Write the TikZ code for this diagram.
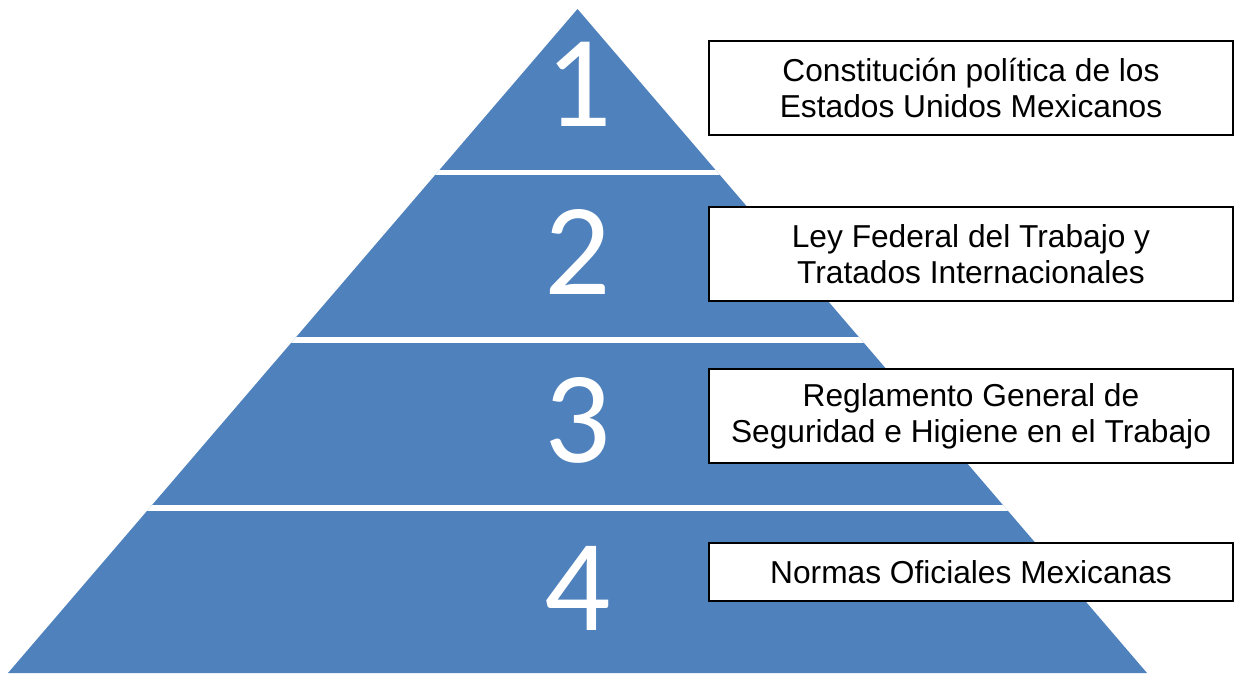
\documentclass[tikz,border=0pt]{standalone}
\usepackage{fontspec}
\setmainfont{Liberation Sans}
\newfontfamily\digitfont[Numbers=Monospaced]{Carlito}
\definecolor{pyrblue}{HTML}{4F81BD}
\begin{document}
\begin{tikzpicture}[x=1pt,y=-1pt,
  labelbox/.style={draw=black, line width=1.8pt, fill=white, rectangle,
    minimum width=524pt, inner sep=0pt, align=center,
    font=\fontsize{31.7}{36}\selectfont},
  levelnum/.style={text=white, inner sep=0pt,
    font=\digitfont\fontsize{131}{131}\selectfont},
  gap/.style={draw=white, line width=5.6pt}]
\useasboundingbox (0,0) rectangle (1234,673);
% pyramid body
\coordinate (apex) at (577.5,9);
\coordinate (bl) at (8,673);
\coordinate (br) at (1147,673);
\fill[pyrblue] (apex) -- (br) -- (bl) -- cycle;
% white separators between the levels
\begin{scope}
  \clip (apex) -- (br) -- (bl) -- cycle;
  \coordinate (g1l) at (0,172.5);  \coordinate (g1r) at (1234,172.5);
  \coordinate (g2l) at (0,340);    \coordinate (g2r) at (1234,340);
  \coordinate (g3l) at (0,508);    \coordinate (g3r) at (1234,508);
  \draw[gap] (g1l) -- (g1r);
  \draw[gap] (g2l) -- (g2r);
  \draw[gap] (g3l) -- (g3r);
\end{scope}
% level numbers
\node[levelnum] (n1) at (579,84) {1};
\node[levelnum] (n2) at (578,252) {2};
\node[levelnum] (n3) at (578,420) {3};
\node[levelnum] (n4) at (578,588) {4};
% labels
\node[labelbox, minimum height=94pt] (b1) at (971,88)
  {Constitución política de los\\Estados Unidos Mexicanos};
\node[labelbox, minimum height=94pt] (b2) at (971,254)
  {Ley Federal del Trabajo y\\Tratados Internacionales};
\node[labelbox, minimum height=94pt] (b3) at (971,416)
  {Reglamento General de\\Seguridad e Higiene en el Trabajo};
\node[labelbox, minimum height=58pt] (b4) at (971,572)
  {Normas Oficiales Mexicanas};
\end{tikzpicture}
\end{document}
